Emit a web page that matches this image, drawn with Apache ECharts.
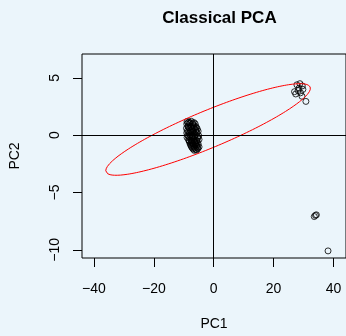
<!DOCTYPE html>
<html>
<head>
<meta charset="utf-8">
<script src="https://cdn.jsdelivr.net/npm/echarts@6/dist/echarts.min.js"></script>
<style>
    html, body { margin: 0; padding: 0; background: #ebf5fb; }
    #main { width: 346px; height: 336px; }
</style>
</head>
<body>
<div id="main"></div>
<script>
// scores (PC1, PC2)
var pc1 = [
    -8.9, -8.3, -7.5, -6.6,
    -9.0, -8.0, -7.0, -6.2,
    -8.6, -7.6, -6.8, -5.9,
    -9.1, -8.2, -7.2, -6.4, -5.5,
    -8.8, -7.8, -6.9, -6.0, -5.2,
    -9.0, -8.1, -7.4, -6.5, -5.6,
    -8.7, -7.9, -7.1, -6.2, -5.0,
    -8.9, -8.0, -7.2, -6.3, -5.3,
    -8.4, -7.5, -6.7, -5.8, -4.9,
    -8.1, -7.3, -6.4, -5.5,
    -7.8, -7.0, -6.1, -5.2,
    -7.4, -6.5, -5.6, -4.9,
    -6.9, -6.0, -5.3,
    -8.6, -7.9, -7.0, -8.5, -7.7, -6.7, -5.8, -8.4, -7.6, -6.8, -5.9,
    -8.5, -7.5, -6.6, -5.4, -8.2, -7.3, -6.4, -5.6, -7.7, -6.9, -6.0,
    -7.6, -6.7, -5.8, -7.2, -6.3, -5.4, -6.5, -5.7,
    27.8, 28.8, 29.6, 27.0, 28.2, 29.0, 29.8, 28.5, 29.5, 30.8, 27.4,
    33.6, 34.3, 34.0,
    38.2
]
var pc2 = [
    1.20, 1.15, 1.22, 1.10,
    0.98, 1.02, 0.95, 1.00,
    0.80, 0.78, 0.83, 0.75,
    0.60, 0.62, 0.57, 0.63, 0.55,
    0.40, 0.42, 0.38, 0.45, 0.35,
    0.20, 0.18, 0.23, 0.15, 0.22,
    0.00, 0.03, -0.02, 0.05, -0.04,
    -0.20, -0.18, -0.22, -0.17, -0.23,
    -0.40, -0.42, -0.38, -0.45, -0.37,
    -0.60, -0.62, -0.58, -0.64,
    -0.80, -0.78, -0.83, -0.76,
    -1.00, -1.03, -0.97, -1.02,
    -1.20, -1.25, -1.18,
    1.08, 1.10, 1.05, 0.70, 0.68, 0.72, 0.66, 0.30, 0.28, 0.32, 0.27,
    -0.08, -0.10, -0.11, -0.12, -0.48, -0.50, -0.52, -0.49, -0.70, -0.72, -0.68,
    -0.90, -0.92, -0.88, -1.10, -1.12, -1.08, -1.32, -1.30,
    4.40, 4.50, 4.30, 3.80, 3.90, 3.70, 4.00, 4.10, 3.40, 2.95, 3.60,
    -7.10, -6.95, -7.00,
    -10.10
]

// tolerance ellipse: centre and the two half-axis vectors (data units)
var ellipseCenter = [-1.87, 0.50]
var ellipseMajor = [34.1, 3.71]
var ellipseMinor = [2.43, -1.49]

var xTicks = [-40, -20, 0, 20, 40]
var yTicks = [-10, -5, 0, 5]

var points = pc1.map(function (x, i) { return [x, pc2[i]] })

var ellipse = []
for (var k = 0; k <= 200; k++) {
    var t = 2 * Math.PI * k / 200
    ellipse.push([
        ellipseCenter[0] + ellipseMajor[0] * Math.cos(t) + ellipseMinor[0] * Math.sin(t),
        ellipseCenter[1] + ellipseMajor[1] * Math.cos(t) + ellipseMinor[1] * Math.sin(t)
    ])
}

function minus(v) {
    return String(v).replace('-', '\u2212')
}

var chart = echarts.init(document.getElementById('main'))
var font = 'Liberation Sans, Arial, sans-serif'
var option = {
    animation: false,
    backgroundColor: '#ebf5fb',
    title: {
        text: 'Classical PCA',
        left: 214.5,
        textAlign: 'center',
        top: 5,
        textStyle: { fontFamily: font, fontSize: 17, fontWeight: 'bold', color: '#000' }
    },
    grid: {
        left: 82, top: 54, width: 265, height: 207,
        show: true, borderColor: '#000', borderWidth: 1,
        backgroundColor: 'transparent'
    },
    xAxis: {
        type: 'value',
        min: -44, max: 44.2,
        splitLine: { show: false },
        axisLine: { show: false, onZero: false },
        axisTick: { show: true, inside: false, length: 9, customValues: xTicks,
            lineStyle: { color: '#000' } },
        axisLabel: { customValues: xTicks, margin: 24, fontFamily: font, fontSize: 14, color: '#000',
            formatter: minus },
        name: 'PC1',
        nameLocation: 'middle',
        nameGap: 59,
        nameTextStyle: { fontFamily: font, fontSize: 14, color: '#000' }
    },
    yAxis: {
        type: 'value',
        min: -10.72, max: 7.09,
        splitLine: { show: false },
        axisLine: { show: false, onZero: false },
        axisTick: { show: true, inside: false, length: 9, customValues: yTicks,
            lineStyle: { color: '#000' } },
        axisLabel: { customValues: yTicks, margin: 20, rotate: 90, fontFamily: font, fontSize: 14,
            color: '#000', formatter: minus },
        name: 'PC2',
        nameLocation: 'middle',
        nameGap: 60,
        nameTextStyle: { fontFamily: font, fontSize: 14, color: '#000' }
    },
    series: [{
        type: 'scatter',
        data: points,
        symbol: 'circle',
        symbolSize: 6,
        itemStyle: { color: 'transparent', borderColor: '#000', borderWidth: 1 },
        markLine: {
            silent: true,
            symbol: 'none',
            label: { show: false },
            lineStyle: { color: '#000', width: 1, type: 'solid' },
            data: [{ xAxis: 0 }, { yAxis: 0 }]
        }
    }, {
        type: 'line',
        data: ellipse,
        showSymbol: false,
        smooth: false,
        lineStyle: { color: '#ff0000', width: 1 }
    }]
}
chart.setOption(option)
</script>
</body>
</html>
